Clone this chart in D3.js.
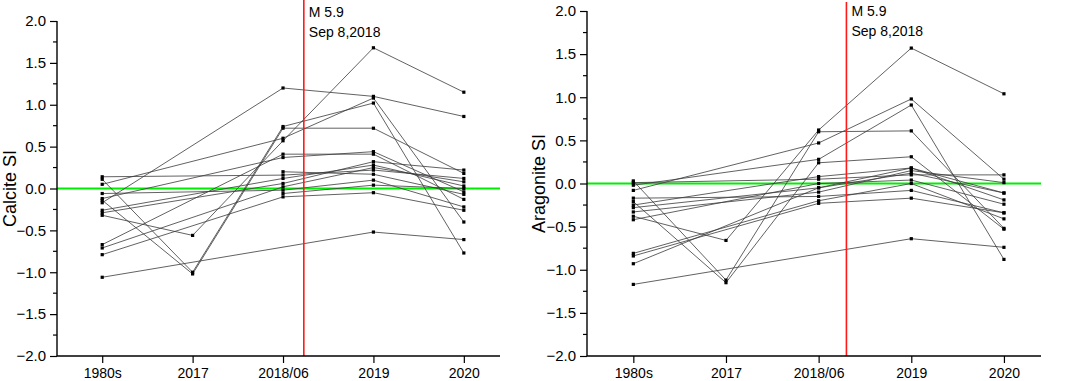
<!DOCTYPE html>
<html>
<head>
<meta charset="utf-8">
<script src="https://cdn.jsdelivr.net/npm/d3@7"></script>
<style>
  html, body { margin: 0; padding: 0; background: #fff; }
  svg { display: block; font-family: Arial, "Liberation Sans", sans-serif; }
</style>
</head>
<body>
<svg id="chart" width="1065" height="381"></svg>
<script>
// ---------- data ----------
const categories = ["1980s", "2017", "2018/06", "2019", "2020"];
const yTickValues = [2.0, 1.5, 1.0, 0.5, 0.0, -0.5, -1.0, -1.5, -2.0];
const eventLines = ["M 5.9", "Sep 8,2018"];
// position of the earthquake between 2018/06 (index 2) and 2019 (index 3)
const eventIndexCalcite = 2.23;
const eventIndexAragonite = 2.3;

// each row: values at [1980s, 2017, 2018/06, 2019, 2020]; null = not sampled
const calciteSI = [
  [-0.17, null, 1.20, 1.10, 0.86],
  [-0.32, -0.56, 0.57, 1.68, 1.15],
  [0.05, null, 0.60, 1.08, -0.40],
  [0.11, -1.00, 0.74, 1.02, -0.77],
  [-0.14, -1.02, 0.72, 0.72, 0.18],
  [0.14, null, 0.16, 0.22, 0.12],
  [-0.06, null, -0.02, 0.10, -0.22],
  [-0.12, null, 0.37, 0.44, -0.04],
  [-0.26, null, 0.12, 0.28, 0.03],
  [-0.29, null, 0.06, 0.32, 0.22],
  [-0.67, null, 0.41, 0.41, -0.13],
  [-0.71, null, 0.02, 0.25, 0.08],
  [-0.79, null, -0.10, -0.05, -0.26],
  [-1.06, null, null, -0.52, -0.61],
  [null, null, 0.20, 0.17, -0.07],
  [null, null, -0.06, 0.04, 0.00]
];

const aragoniteSI = [
  [-0.08, null, 0.47, 0.98, 0.05],
  [-0.38, -0.66, 0.62, 1.57, 1.04],
  [-0.02, null, 0.28, 0.91, -0.88],
  [0.03, -1.12, 0.60, 0.61, -0.52],
  [-0.21, -1.15, 0.24, 0.31, -0.53],
  [0.01, null, 0.05, 0.10, 0.10],
  [-0.17, null, -0.15, -0.08, -0.34],
  [-0.25, null, 0.08, 0.18, -0.19],
  [-0.28, null, -0.05, 0.12, -0.11],
  [-0.33, null, -0.10, 0.15, 0.01],
  [-0.42, null, 0.00, 0.04, -0.24],
  [-0.81, null, -0.20, 0.00, -0.41],
  [-0.84, null, -0.23, -0.17, -0.34],
  [-0.93, null, -0.05, 0.18, -0.11],
  [-1.17, null, null, -0.64, -0.74]
];

// ---------- drawing ----------
const svg = d3.select("#chart");
const FONT = "Arial, 'Liberation Sans', sans-serif";

function drawPanel(cfg) {
  const x = d3.scaleLinear().domain([-0.5, 4.4]).range([cfg.x0, cfg.x1]);
  const y = d3.scaleLinear().domain([-2, 2]).range([cfg.bottom, cfg.top]);
  const g = svg.append("g");

  // green zero reference line
  g.append("line")
    .attr("x1", cfg.x0).attr("x2", cfg.x1)
    .attr("y1", y(0)).attr("y2", y(0))
    .attr("stroke", "#00ee00").attr("stroke-width", 2);

  // series lines
  const line = d3.line().x(d => x(d[0])).y(d => y(d[1]));
  cfg.data.forEach(row => {
    const pts = row.map((v, i) => [i, v]).filter(d => d[1] !== null);
    g.append("path")
      .attr("d", line(pts))
      .attr("fill", "none")
      .attr("stroke", "#3a3a3a")
      .attr("stroke-width", 0.8);
  });
  // markers
  cfg.data.forEach(row => {
    row.forEach((v, i) => {
      if (v === null) return;
      g.append("rect")
        .attr("x", x(i) - 1.6).attr("y", y(v) - 1.6)
        .attr("width", 3.2).attr("height", 3.2)
        .attr("fill", "#000");
    });
  });

  // red event line
  const ex = x(cfg.eventIndex);
  g.append("line")
    .attr("x1", ex).attr("x2", ex)
    .attr("y1", cfg.redTop).attr("y2", cfg.bottom)
    .attr("stroke", "#ff1a1a").attr("stroke-width", 1.6);
  g.append("text").attr("x", ex + 5).attr("y", cfg.textY1)
    .attr("font-size", 14).attr("fill", "#000").text(eventLines[0]);
  g.append("text").attr("x", ex + 5).attr("y", cfg.textY2)
    .attr("font-size", 14).attr("fill", "#000").text(eventLines[1]);

  // y axis
  const yAxis = d3.axisLeft(y).tickValues(yTickValues)
    .tickFormat(d3.format(".1f")).tickSize(7).tickPadding(4);
  const ya = g.append("g").attr("transform", `translate(${cfg.x0},0)`).call(yAxis);
  ya.select(".domain").attr("stroke-width", 1.4).attr("d", `M0,${cfg.top}V${cfg.bottom}`);
  ya.selectAll(".tick line").attr("stroke-width", 1.2);
  ya.selectAll(".tick text").attr("font-size", 15).attr("font-family", FONT).attr("fill", "#000");
  // minor y ticks
  const minor = d3.range(-1.75, 2, 0.5);
  ya.selectAll(".minor").data(minor).enter().append("line")
    .attr("x1", -4).attr("x2", 0)
    .attr("y1", d => y(d)).attr("y2", d => y(d))
    .attr("stroke", "#000").attr("stroke-width", 1.2);

  // x axis
  const xAxis = d3.axisBottom(x).tickValues(d3.range(categories.length))
    .tickFormat(i => categories[i]).tickSize(7).tickPadding(5);
  const xa = g.append("g").attr("transform", `translate(0,${cfg.bottom})`).call(xAxis);
  xa.select(".domain").attr("stroke-width", 1.4).attr("d", `M${cfg.x0},0H${cfg.x1}`);
  xa.selectAll(".tick line").attr("stroke-width", 1.2);
  xa.selectAll(".tick text").attr("font-size", 14).attr("font-family", FONT).attr("fill", "#000");

  // y title
  const midY = (cfg.top + cfg.bottom) / 2;
  g.append("text")
    .attr("transform", `translate(${cfg.titleX},${midY}) rotate(-90)`)
    .attr("text-anchor", "middle")
    .attr("font-size", 18).attr("fill", "#000")
    .text(cfg.title);
}

drawPanel({
  x0: 57, x1: 500, top: 21, bottom: 356, redTop: 0, textY1: 17, textY2: 37,
  data: calciteSI, eventIndex: eventIndexCalcite,
  title: "Calcite SI", titleX: 16
});
drawPanel({
  x0: 587, x1: 1041, top: 11, bottom: 356, redTop: 2, textY1: 16, textY2: 36,
  data: aragoniteSI, eventIndex: eventIndexAragonite,
  title: "Aragonite SI", titleX: 545
});
</script>
</body>
</html>
